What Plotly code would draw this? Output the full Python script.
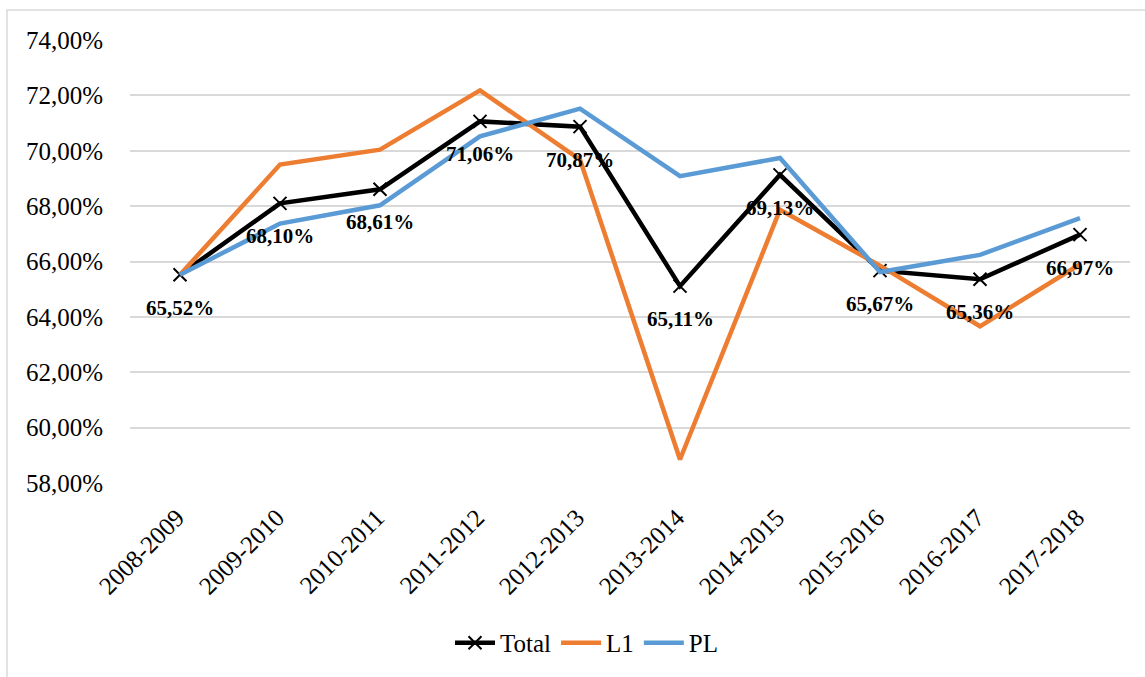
import plotly.graph_objects as go

categories = ["2008-2009", "2009-2010", "2010-2011", "2011-2012", "2012-2013",
              "2013-2014", "2014-2015", "2015-2016", "2016-2017", "2017-2018"]
total = [65.52, 68.10, 68.61, 71.06, 70.87, 65.11, 69.13, 65.67, 65.36, 66.97]
l1 = [65.52, 69.50, 70.04, 72.18, 69.68, 58.85, 67.87, 65.85, 63.66, 65.90]
pl = [65.52, 67.37, 68.03, 70.52, 71.52, 69.08, 69.74, 65.62, 66.24, 67.57]
ytick_vals = [58, 60, 62, 64, 66, 68, 70, 72, 74]
ytick_text = ["58,00%", "60,00%", "62,00%", "64,00%", "66,00%", "68,00%", "70,00%", "72,00%", "74,00%"]
total_labels = [f"{v:.2f}%".replace(".", ",") for v in total]

FONT = "Liberation Serif, Times New Roman, serif"

fig = go.Figure()
fig.add_trace(go.Scatter(x=categories, y=total, mode="lines+markers", name="Total",
                         line=dict(color="black", width=4.5),
                         marker=dict(symbol="x-thin", size=13, color="black",
                                     line=dict(color="black", width=2))))
fig.add_trace(go.Scatter(x=categories, y=l1, mode="lines", name="L1",
                         line=dict(color="#ED7D31", width=4.5)))
fig.add_trace(go.Scatter(x=categories, y=pl, mode="lines", name="PL",
                         line=dict(color="#5B9BD5", width=4.5)))

for c, v, t in zip(categories, total, total_labels):
    fig.add_annotation(x=c, y=v, text=f"<b>{t}</b>", showarrow=False,
                       yshift=-33, font=dict(family=FONT, size=21, color="black"))

fig.add_shape(type="rect", xref="paper", yref="paper",
              x0=-0.123, x1=1.05, y0=-0.5, y1=1.0676,
              line=dict(color="#D9D9D9", width=1.5), fillcolor="rgba(0,0,0,0)")

fig.update_layout(
    width=1145, height=677,
    margin=dict(l=130, r=15, t=40, b=193),
    paper_bgcolor="white", plot_bgcolor="white",
    font=dict(family=FONT, color="black"),
    legend=dict(orientation="h", x=0.457, xanchor="center", y=-0.358, yanchor="middle",
                font=dict(family=FONT, size=25), itemwidth=40),
    showlegend=True,
)
fig.update_xaxes(showgrid=False, showline=False, ticks="", tickangle=-45,
                 tickfont=dict(family=FONT, size=25), range=[-0.5, 9.5],
                 ticklabelshift=-3, ticklabelstandoff=14)
fig.update_yaxes(range=[58, 74], tickvals=ytick_vals, ticktext=ytick_text,
                 showgrid=True, gridcolor="#D9D9D9", gridwidth=1.5,
                 zeroline=False, showline=False, ticks="",
                 tickfont=dict(family=FONT, size=25), ticklabelstandoff=26)

fig.write_html("out.html", post_script="document.body.style.margin='0';",
               config={"displayModeBar": False})
